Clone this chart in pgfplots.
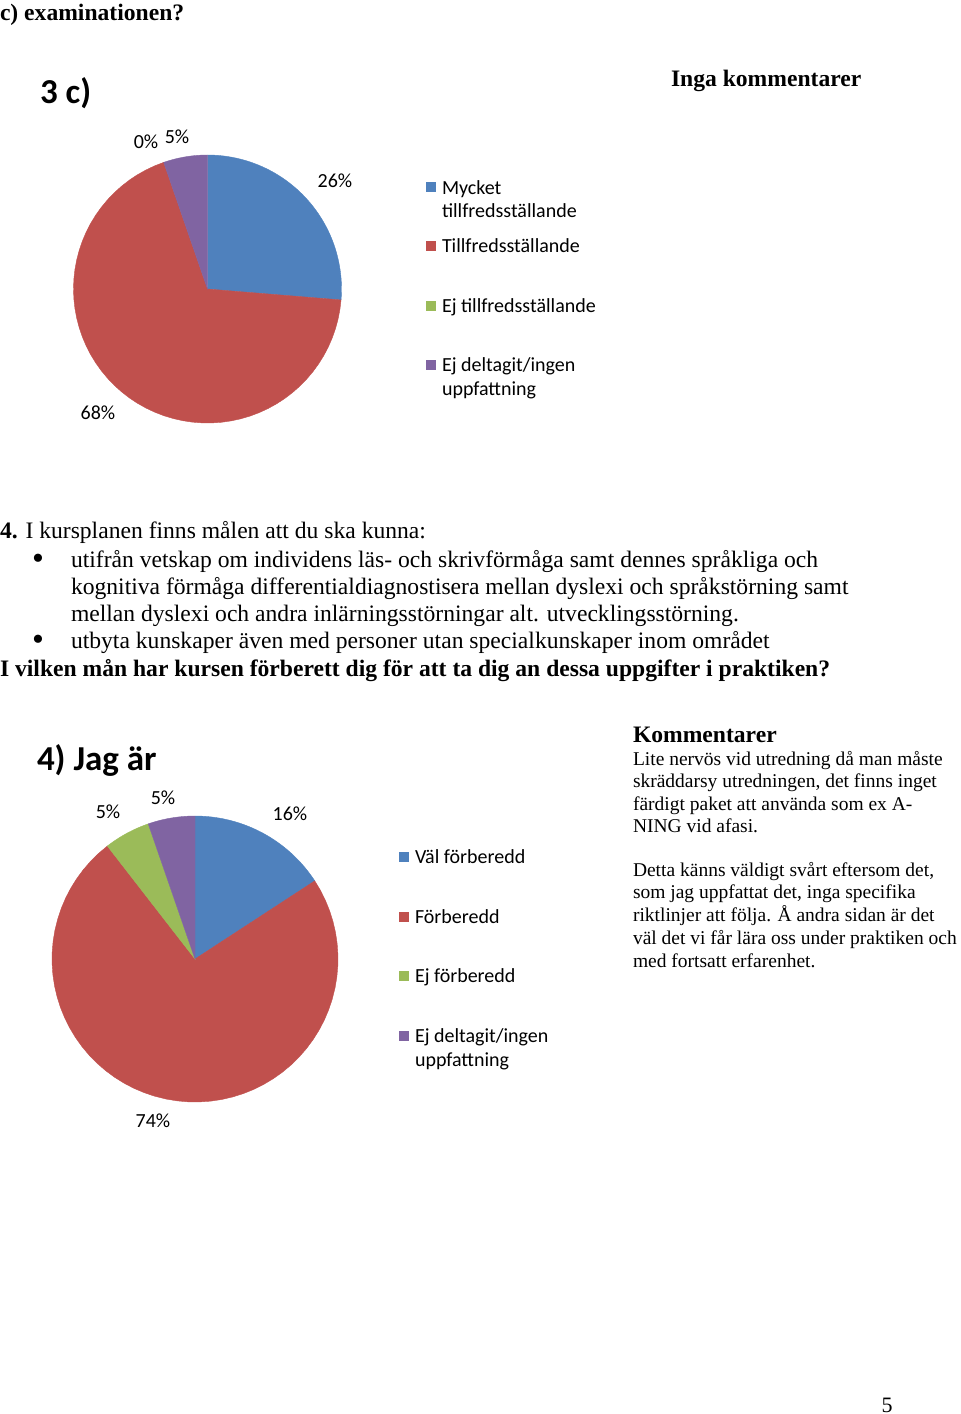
\documentclass[border=0pt]{standalone}
\usepackage{fontspec}
\setmainfont{Liberation Serif}
\newfontfamily\carlito{Carlito}
\usepackage{pgfplots}
\pgfplotsset{compat=1.18}
\usepackage{xcolor}
\definecolor{exblue}{HTML}{4F81BD}
\definecolor{exred}{HTML}{C0504D}
\definecolor{exgreen}{HTML}{9BBB59}
\definecolor{expurple}{HTML}{8064A2}

\newcommand\bodyfont{\fontsize{11.8}{13.6}\selectfont}
\newcommand\comfont{\fontsize{9.75}{11.5}\selectfont}
\newcommand\chartfont{\carlito\fontsize{10}{12}\selectfont}
\newcommand\titlefont{\carlito\bfseries\fontsize{17.5}{20}\selectfont}

% one pie slice, clockwise from 12 o'clock, given as cumulative percent
\pgfplotsset{
  pie slice/.style={draw=#1, fill=#1, line width=0.2pt, samples=60, variable=\t},
  pie axis/.style={scale only axis, hide axis, clip=false,
    xmin=-1, xmax=1, ymin=-1, ymax=1},
}

\begin{document}
\begin{tikzpicture}
\path[use as bounding box] (0,0) rectangle (480pt,-707pt);

% 3 c): 26.3 / 68.4 / 0 / 5.3 percent
\begin{axis}[pie axis, at={(103.75pt,-144.5pt)}, anchor=center,
    width=134pt, height=134pt]
\addplot[pie slice=exblue, domain=0:26.3] ({sin(3.6*\t)},{cos(3.6*\t)}) -- (axis cs:0,0) -- cycle;
\addplot[pie slice=exred, domain=26.3:94.7] ({sin(3.6*\t)},{cos(3.6*\t)}) -- (axis cs:0,0) -- cycle;
% Ej tillfredsstallande: 0 percent, no slice
\addplot[pie slice=expurple, domain=94.7:100] ({sin(3.6*\t)},{cos(3.6*\t)}) -- (axis cs:0,0) -- cycle;
\end{axis}

% 4): 15.8 / 73.7 / 5.3 / 5.3 percent
\begin{axis}[pie axis, at={(97.5pt,-479.5pt)}, anchor=center,
    width=143pt, height=143pt]
\addplot[pie slice=exblue, domain=0:15.8] ({sin(3.6*\t)},{cos(3.6*\t)}) -- (axis cs:0,0) -- cycle;
\addplot[pie slice=exred, domain=15.8:89.5] ({sin(3.6*\t)},{cos(3.6*\t)}) -- (axis cs:0,0) -- cycle;
\addplot[pie slice=exgreen, domain=89.5:94.7] ({sin(3.6*\t)},{cos(3.6*\t)}) -- (axis cs:0,0) -- cycle;
\addplot[pie slice=expurple, domain=94.7:100] ({sin(3.6*\t)},{cos(3.6*\t)}) -- (axis cs:0,0) -- cycle;
\end{axis}

\begin{scope}[x=0.5pt, y=-0.5pt, every node/.style={inner sep=0pt, outer sep=0pt}]
% page text
\node[anchor=base west, font=\bodyfont\bfseries] at (0,20) {c) examinationen?};
\node[anchor=base west, font=\bodyfont\bfseries] at (671,86) {Inga kommentarer};

\node[anchor=base west, font=\bodyfont] at (0,538) {\textbf{4.} I kursplanen finns målen att du ska kunna:};
\node[font=\fontsize{17}{17}\selectfont] at (38,562) {•};
\node[anchor=base west, font=\bodyfont] at (71,567) {utifrån vetskap om individens läs- och skrivförmåga samt dennes språkliga och};
\node[anchor=base west, font=\bodyfont] at (71,594) {kognitiva förmåga differentialdiagnostisera mellan dyslexi och språkstörning samt};
\node[anchor=base west, font=\bodyfont] at (71,621) {mellan dyslexi och andra inlärningsstörningar alt. utvecklingsstörning.};
\node[font=\fontsize{17}{17}\selectfont] at (38,643) {•};
\node[anchor=base west, font=\bodyfont] at (71,648) {utbyta kunskaper även med personer utan specialkunskaper inom området};
\node[anchor=base west, font=\bodyfont\bfseries] at (0,676) {I vilken mån har kursen förberett dig för att ta dig an dessa uppgifter i praktiken?};

\node[anchor=base west, font=\bodyfont\bfseries] at (633,742) {Kommentarer};
\node[anchor=base west, font=\comfont] at (633,765) {Lite nervös vid utredning då man måste};
\node[anchor=base west, font=\comfont] at (633,787) {skräddarsy utredningen, det finns inget};
\node[anchor=base west, font=\comfont] at (633,810) {färdigt paket att använda som ex A-};
\node[anchor=base west, font=\comfont] at (633,832) {NING vid afasi.};
\node[anchor=base west, font=\comfont] at (633,876) {Detta känns väldigt svårt eftersom det,};
\node[anchor=base west, font=\comfont] at (633,898) {som jag uppfattat det, inga specifika};
\node[anchor=base west, font=\comfont] at (633,921) {riktlinjer att följa. Å andra sidan är det};
\node[anchor=base west, font=\comfont] at (633,944) {väl det vi får lära oss under praktiken och};
\node[anchor=base west, font=\comfont] at (633,967) {med fortsatt erfarenhet.};

\node[anchor=center, font=\fontsize{11}{13}\selectfont] at (887,1405) {5};

% chart 3 c)
\node[anchor=base west, font=\titlefont] at (40,103) {3 c)};
\node[font=\chartfont] at (146,142) {0\%};
\node[font=\chartfont] at (177,137) {5\%};
\node[font=\chartfont] at (335,181) {26\%};
\node[font=\chartfont] at (98,413) {68\%};
\fill[exblue]   (426,182) rectangle (436,192);
\fill[exred]    (426,241) rectangle (436,251);
\fill[exgreen]  (426,301) rectangle (436,311);
\fill[expurple] (426,360) rectangle (436,370);
\node[anchor=base west, font=\chartfont] at (442,194) {Mycket};
\node[anchor=base west, font=\chartfont] at (442,217) {tillfredsställande};
\node[anchor=base west, font=\chartfont] at (442,252) {Tillfredsställande};
\node[anchor=base west, font=\chartfont] at (442,312) {Ej tillfredsställande};
\node[anchor=base west, font=\chartfont] at (442,371) {Ej deltagit/ingen};
\node[anchor=base west, font=\chartfont] at (442,395) {uppfattning};

% chart 4)
\node[anchor=base west, font=\titlefont] at (37,770) {4) Jag är};
\node[font=\chartfont] at (108,812) {5\%};
\node[font=\chartfont] at (163,798) {5\%};
\node[font=\chartfont] at (290,814) {16\%};
\node[font=\chartfont] at (153,1121) {74\%};
\fill[exblue]   (399,852) rectangle (409,862);
\fill[exred]    (399,912) rectangle (409,922);
\fill[exgreen]  (399,971) rectangle (409,981);
\fill[expurple] (399,1031) rectangle (409,1041);
\node[anchor=base west, font=\chartfont] at (415,863) {Väl förberedd};
\node[anchor=base west, font=\chartfont] at (415,923) {Förberedd};
\node[anchor=base west, font=\chartfont] at (415,982) {Ej förberedd};
\node[anchor=base west, font=\chartfont] at (415,1042) {Ej deltagit/ingen};
\node[anchor=base west, font=\chartfont] at (415,1066) {uppfattning};
\end{scope}
\end{tikzpicture}
\end{document}
